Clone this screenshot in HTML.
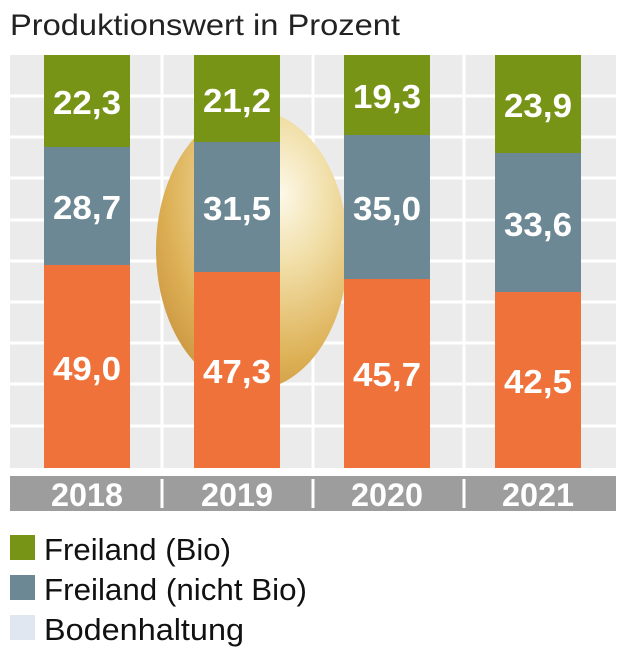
<!DOCTYPE html>
<html><head><meta charset="utf-8"><style>
body{margin:0;width:634px;height:658px;background:#fff;overflow:hidden;font-family:"Liberation Sans",sans-serif}
</style></head><body>
<svg width="634" height="658" xmlns="http://www.w3.org/2000/svg" style="position:absolute;left:0;top:0">
<defs>
<radialGradient id="egg" cx="0.65" cy="0.3" r="0.85">
<stop offset="0" stop-color="#fdf8e8"/>
<stop offset="0.3" stop-color="#f1dfa8"/>
<stop offset="0.7" stop-color="#ddb055"/>
<stop offset="1" stop-color="#c58d3a"/>
</radialGradient>
</defs>
<text x="10" y="35" font-size="30" fill="#222" textLength="390" lengthAdjust="spacingAndGlyphs">Produktionswert in Prozent</text>
<rect x="10" y="55" width="606" height="413" fill="#ebebeb"/>
<g stroke="#fff" stroke-width="3">
<line x1="10" x2="616" y1="96" y2="96"/><line x1="10" x2="616" y1="137" y2="137"/>
<line x1="10" x2="616" y1="178" y2="178"/><line x1="10" x2="616" y1="220" y2="220"/>
<line x1="10" x2="616" y1="261" y2="261"/><line x1="10" x2="616" y1="302" y2="302"/>
<line x1="10" x2="616" y1="343" y2="343"/><line x1="10" x2="616" y1="384" y2="384"/>
<line x1="10" x2="616" y1="426" y2="426"/>
<line x1="162" x2="162" y1="55" y2="468"/><line x1="313" x2="313" y1="55" y2="468"/><line x1="464" x2="464" y1="55" y2="468"/>
</g>
<ellipse cx="252" cy="250" rx="96" ry="140" fill="url(#egg)"/>
<g>
<rect x="44" y="55" width="86" height="92" fill="#789417"/>
<rect x="44" y="147" width="86" height="118" fill="#6c8894"/>
<rect x="44" y="265" width="86" height="203" fill="#ef723b"/>
<rect x="194" y="55" width="86" height="87" fill="#789417"/>
<rect x="194" y="142" width="86" height="130" fill="#6c8894"/>
<rect x="194" y="272" width="86" height="196" fill="#ef723b"/>
<rect x="344" y="55" width="86" height="80" fill="#789417"/>
<rect x="344" y="135" width="86" height="144" fill="#6c8894"/>
<rect x="344" y="279" width="86" height="189" fill="#ef723b"/>
<rect x="495" y="55" width="86" height="98" fill="#789417"/>
<rect x="495" y="153" width="86" height="139" fill="#6c8894"/>
<rect x="495" y="292" width="86" height="176" fill="#ef723b"/>
</g>
<g fill="#fff" font-size="33" font-weight="bold" text-anchor="middle">
<text x="87" y="114" textLength="68" lengthAdjust="spacingAndGlyphs">22,3</text><text x="87" y="219" textLength="68" lengthAdjust="spacingAndGlyphs">28,7</text><text x="87" y="380" textLength="68" lengthAdjust="spacingAndGlyphs">49,0</text>
<text x="237" y="112" textLength="68" lengthAdjust="spacingAndGlyphs">21,2</text><text x="237" y="220" textLength="68" lengthAdjust="spacingAndGlyphs">31,5</text><text x="237" y="383" textLength="68" lengthAdjust="spacingAndGlyphs">47,3</text>
<text x="387" y="108" textLength="68" lengthAdjust="spacingAndGlyphs">19,3</text><text x="387" y="220" textLength="68" lengthAdjust="spacingAndGlyphs">35,0</text><text x="387" y="386" textLength="68" lengthAdjust="spacingAndGlyphs">45,7</text>
<text x="538" y="117" textLength="68" lengthAdjust="spacingAndGlyphs">23,9</text><text x="538" y="236" textLength="68" lengthAdjust="spacingAndGlyphs">33,6</text><text x="538" y="393" textLength="68" lengthAdjust="spacingAndGlyphs">42,5</text>
</g>
<rect x="10" y="476" width="606" height="35" fill="#9d9d9d"/>
<g stroke="#fff" stroke-width="3">
<line x1="162" x2="162" y1="479" y2="508"/><line x1="313" x2="313" y1="479" y2="508"/><line x1="464" x2="464" y1="479" y2="508"/>
</g>
<g fill="#fff" font-size="32" font-weight="bold" text-anchor="middle">
<text x="87" y="506" textLength="72" lengthAdjust="spacingAndGlyphs">2018</text><text x="237" y="506" textLength="72" lengthAdjust="spacingAndGlyphs">2019</text><text x="387" y="506" textLength="72" lengthAdjust="spacingAndGlyphs">2020</text><text x="538" y="506" textLength="72" lengthAdjust="spacingAndGlyphs">2021</text>
</g>
<rect x="10" y="535" width="25" height="25" fill="#789417"/>
<rect x="10" y="575" width="25" height="25" fill="#6c8894"/>
<rect x="10" y="615" width="25" height="25" fill="#e1e7f0"/>
<g font-size="31" fill="#111">
<text x="44" y="560" textLength="187" lengthAdjust="spacingAndGlyphs">Freiland (Bio)</text>
<text x="44" y="600" textLength="263" lengthAdjust="spacingAndGlyphs">Freiland (nicht Bio)</text>
<text x="44" y="640" textLength="200" lengthAdjust="spacingAndGlyphs">Bodenhaltung</text>
</g>
</svg>
</body></html>
